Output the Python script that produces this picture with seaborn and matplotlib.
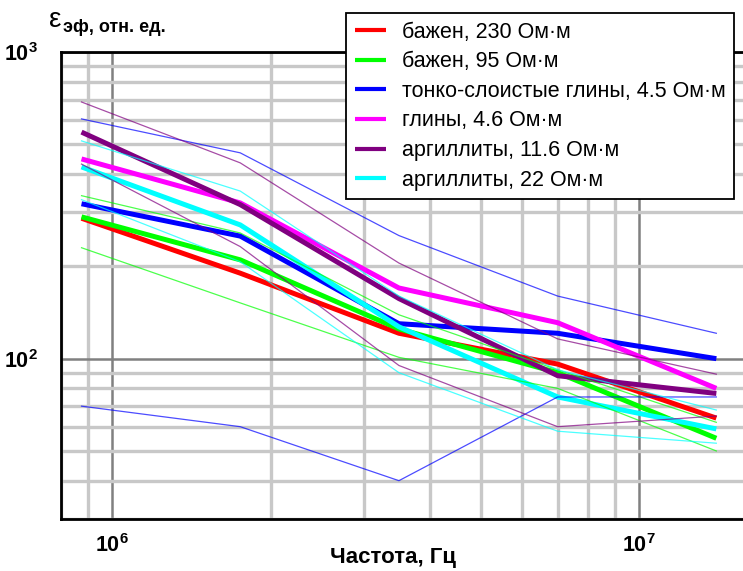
import numpy as np
import pandas as pd
import matplotlib
matplotlib.use('Agg')
import matplotlib.pyplot as plt
from matplotlib.ticker import FixedLocator, NullFormatter
import seaborn as sns

# частоты, Гц
freq = [0.875e6, 1.75e6, 3.5e6, 7e6, 14e6]

labels = ['бажен, 230 Ом·м', 'бажен, 95 Ом·м', 'тонко-слоистые глины, 4.5 Ом·м',
          'глины, 4.6 Ом·м', 'аргиллиты, 11.6 Ом·м', 'аргиллиты, 22 Ом·м']
colors = ['#ff0000', '#00ff00', '#0000ff', '#ff00ff', '#800080', '#00ffff']

# средние кривые (толстые линии)
bazh_230 = [287, 190, 121, 96, 64]
bazh_95 = [290, 210, 125, 90, 55]
tonk_45 = [320, 251, 130, 121, 100]
gliny_46 = [448, 322, 170, 131, 80]
argil_116 = [548, 318, 157, 88, 77]
argil_22 = [422, 273, 127, 75, 59]

# разброс (тонкие линии)
bazh_95_max = [340, 257, 139, 92, 62]
bazh_95_min = [230, 152, 101, 80, 50]
tonk_45_max = [605, 469, 252, 160, 121]
tonk_45_min = [70, 60, 40, 75, 75]
argil_116_max = [687, 435, 205, 116, 89]
argil_116_min = [431, 232, 95, 60, 65]
argil_22_max = [513, 352, 160, 92, 68]
argil_22_min = [330, 207, 90, 58, 53]

plt.rcParams['font.family'] = ['Liberation Sans', 'DejaVu Sans']
plt.rcParams['mathtext.fontset'] = 'custom'
plt.rcParams['mathtext.rm'] = 'Liberation Sans:bold'
plt.rcParams['mathtext.bf'] = 'Liberation Sans:bold'

fig = plt.figure(figsize=(7.43, 5.71), dpi=100)
W, H = 743, 571
ax = fig.add_axes([61 / W, (H - 519) / H, (798 - 61) / W, 467 / H])
ax.set_xscale('log')
ax.set_yscale('log')

thick = [bazh_230, bazh_95, tonk_45, gliny_46, argil_116, argil_22]
for vals, c, lab in zip(thick, colors, labels):
    sns.lineplot(x=freq, y=vals, ax=ax, color=c, lw=3.6, label=lab,
                 solid_capstyle='butt', zorder=3)

thin = [(bazh_95_max, colors[1]), (bazh_95_min, colors[1]),
        (tonk_45_max, colors[2]), (tonk_45_min, colors[2]),
        (argil_116_max, colors[4]), (argil_116_min, colors[4]),
        (argil_22_max, colors[5]), (argil_22_min, colors[5])]
for vals, c in thin:
    sns.lineplot(x=freq, y=vals, ax=ax, color=c, lw=0.9, alpha=0.7,
                 legend=False, zorder=4)

ax.set_xlim(8e5, 2e7)
ax.set_ylim(30, 1000)

ax.xaxis.set_major_locator(FixedLocator([1e6, 1e7]))
ax.yaxis.set_major_locator(FixedLocator([1e2, 1e3]))
ax.xaxis.set_minor_locator(FixedLocator([k * 10.0 ** e for e in (5, 6, 7) for k in range(2, 10)]))
ax.yaxis.set_minor_locator(FixedLocator([k * 10.0 ** e for e in (1, 2) for k in range(2, 10)]))
ax.xaxis.set_minor_formatter(NullFormatter())
ax.yaxis.set_minor_formatter(NullFormatter())
ax.set_xticklabels([r'$\mathbf{10^{6}}$', r'$\mathbf{10^{7}}$'], fontsize=15.5)
ax.set_yticklabels([r'$\mathbf{10^{2}}$', r'$\mathbf{10^{3}}$'], fontsize=15.5)
ax.tick_params(which='both', length=0)
ax.tick_params(axis='x', pad=11)
ax.tick_params(axis='y', pad=17)

ax.set_axisbelow(True)
ax.grid(which='minor', color='#c8c8c8', lw=2.4)
ax.grid(which='major', color='#808080', lw=1.8)
for s in ['left', 'bottom', 'top']:
    ax.spines[s].set_linewidth(2)
    ax.spines[s].set_color('black')
ax.spines['right'].set_visible(False)
ax.set_xlabel('')
ax.set_ylabel('')

leg = ax.legend(loc='upper right', bbox_to_anchor=(734 / W, 1 - 13 / H),
                bbox_transform=fig.transFigure, fontsize=15.5, frameon=True,
                fancybox=False, edgecolor='black', framealpha=1,
                handlelength=1.45, handletextpad=0.72, labelspacing=0.4,
                borderpad=0.4, borderaxespad=0)
leg.get_frame().set_linewidth(1.3)
for ln in leg.get_lines():
    ln.set_linewidth(3)

fig.text(49 / W, 1 - 27 / H, 'ε', fontsize=20, ha='left', va='baseline')
fig.text(63 / W, 1 - 32 / H, 'эф, отн. ед.', fontsize=13, fontweight='bold',
         ha='left', va='baseline')
fig.text(393 / W, 1 - 557 / H, 'Частота, Гц', fontsize=16, fontweight='bold',
         ha='center', va='center')

fig.savefig('out.png', dpi=100)
